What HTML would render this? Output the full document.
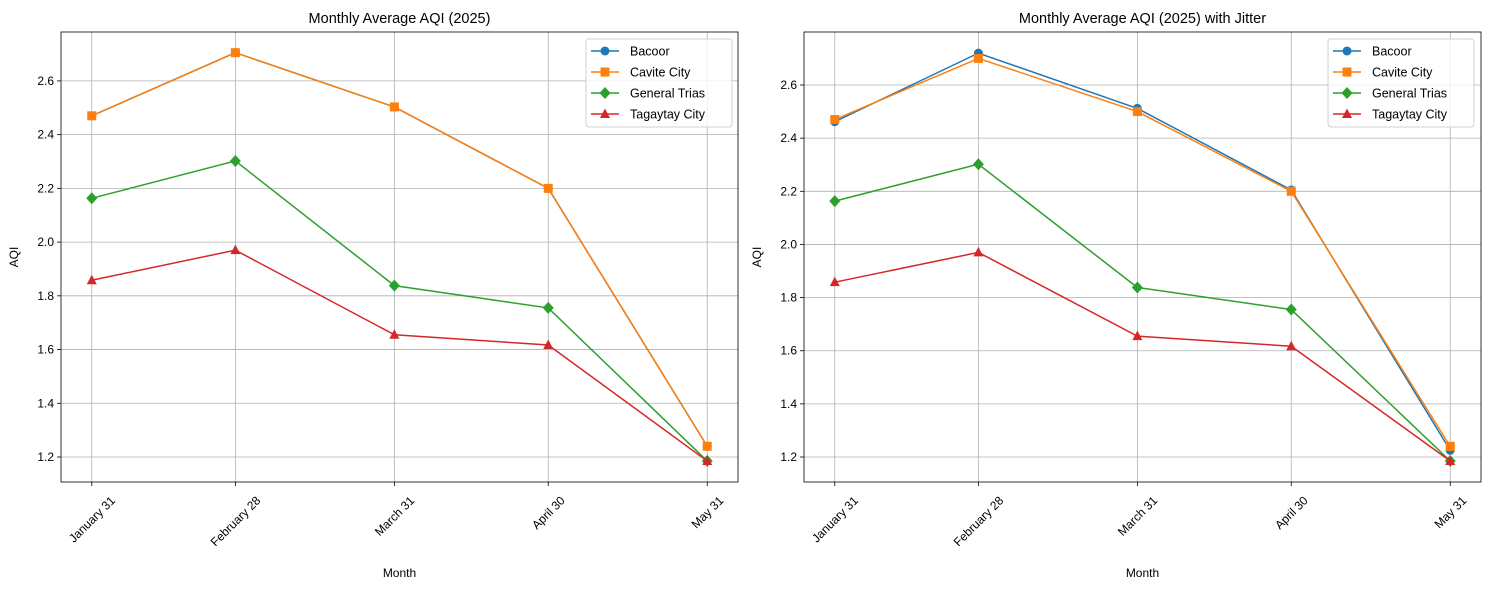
<!DOCTYPE html>
<html><head><meta charset="utf-8"><style>
body{margin:0;background:#fff;}
svg{font-family:"Liberation Sans","DejaVu Sans",sans-serif;}
</style></head><body>
<svg id="chart" width="1489" height="590"></svg>
<script>
const months=["January 31","February 28","March 31","April 30","May 31"];
const days=[0,28,59,89,120];
const seriesNames=["Bacoor","Cavite City","General Trias","Tagaytay City"];
const leftBacoor=[2.47,2.705,2.503,2.20,1.24];
const leftCavite=[2.47,2.705,2.503,2.20,1.24];
const leftTrias=[2.163,2.302,1.838,1.755,1.185];
const leftTagaytay=[1.858,1.97,1.655,1.617,1.185];
const rightBacoor=[2.462,2.72,2.512,2.205,1.225];
const rightCavite=[2.47,2.70,2.50,2.20,1.24];
const rightTrias=[2.163,2.302,1.838,1.755,1.185];
const rightTagaytay=[1.858,1.97,1.655,1.617,1.185];
const yTicks=[1.2,1.4,1.6,1.8,2.0,2.2,2.4,2.6];
const colors=["#1f77b4","#ff7f0e","#2ca02c","#d62728"];
const markers=["circle","square","diamond","triangle"];
const NS="http://www.w3.org/2000/svg";
const svg=document.getElementById('chart');
function mk(tag,attrs,parent,text){const e=document.createElementNS(NS,tag);for(const k in attrs)e.setAttribute(k,attrs[k]);if(text!==undefined)e.textContent=text;(parent||svg).appendChild(e);return e;}
function marker(g,type,x,y,c){let e;
 if(type==="circle")e=mk('circle',{cx:x,cy:y,r:4.5,fill:c},g);
 else if(type==="square")e=mk('rect',{x:x-4.5,y:y-4.5,width:9,height:9,fill:c},g);
 else if(type==="diamond")e=mk('polygon',{points:`${x},${y-6} ${x+5.5},${y} ${x},${y+6} ${x-5.5},${y}`,fill:c},g);
 else e=mk('polygon',{points:`${x},${y-5.5} ${x+5},${y+4} ${x-5},${y+4}`,fill:c},g);
 return e;}
function panel(x0,x1,y0,y1,ymin,ymax,title,data,legX,name){
 const g=mk('g',{});
 
 
 const xmin=-6,xmax=126;
 const X=d=>x0+(d-xmin)/(xmax-xmin)*(x1-x0);
 const Y=v=>y1-(v-ymin)/(ymax-ymin)*(y1-y0);
 days.forEach((d,i)=>{const x=X(d);
  mk('line',{x1:x,x2:x,y1:y0,y2:y1,stroke:'#b0b0b0','stroke-width':0.8},g);
  mk('line',{x1:x,x2:x,y1:y1,y2:y1+4,stroke:'#000','stroke-width':0.8},g);
  const t=mk('text',{x:x,y:0,'font-size':12,'text-anchor':'middle'},g,months[i]);
  
  
  const L=t.getComputedTextLength();
  const h=(L+12)*0.7071;
  const cy=y1+12+h/2;
  t.setAttribute('y',cy+4.3);
  t.setAttribute('transform',`rotate(-45 ${x} ${cy})`);});
 yTicks.forEach(v=>{const y=Y(v);
  mk('line',{x1:x0,x2:x1,y1:y,y2:y,stroke:'#b0b0b0','stroke-width':0.8},g);
  mk('line',{x1:x0-4,x2:x0,y1:y,y2:y,stroke:'#000','stroke-width':0.8},g);
  const t=mk('text',{x:x0-7,y:y+4,'font-size':12,'text-anchor':'end'},g,v.toFixed(1));
  
  });
 data.forEach((vals,si)=>{
  const pts=vals.map((v,i)=>X(days[i])+','+Y(v)).join(' ');
  const l=mk('polyline',{points:pts,fill:'none',stroke:colors[si],'stroke-width':1.5},g);
  
  
  vals.forEach((v,i)=>marker(g,markers[si],X(days[i]),Y(v),colors[si]));});
 mk('rect',{x:x0,y:y0,width:x1-x0,height:y1-y0,fill:'none',stroke:'#000','stroke-width':0.8},g);
 const tt=mk('text',{x:(x0+x1)/2,y:y0-9,'font-size':14.5,'text-anchor':'middle'},g,title);
 
 
 const xl=mk('text',{x:(x0+x1)/2,y:577,'font-size':12,'text-anchor':'middle'},g,'Month');
 
 
 const yl=mk('text',{x:0,y:0,'font-size':12,'text-anchor':'middle',transform:`translate(${x0-43},${(y0+y1)/2}) rotate(-90)`},g,'AQI');
 
 
 const lg=mk('g',{},g);
 
 
 mk('rect',{x:legX,y:39,width:146,height:88,rx:3,fill:'#fff','fill-opacity':0.8,stroke:'#d0d0d0'},lg);
 seriesNames.forEach((n,i)=>{const y=51+i*21;
  mk('line',{x1:legX+5,x2:legX+33,y1:y,y2:y,stroke:colors[i],'stroke-width':1.5},lg);
  marker(lg,markers[i],legX+19,y,colors[i]);
  const t=mk('text',{x:legX+44,y:y+4.5,'font-size':12.5},lg,n);
  
  });
}
panel(61,738,32,482,1.107,2.782,"Monthly Average AQI (2025)",[leftBacoor,leftCavite,leftTrias,leftTagaytay],586,'left-panel');
panel(804,1481,32,482,1.106,2.7995,"Monthly Average AQI (2025) with Jitter",[rightBacoor,rightCavite,rightTrias,rightTagaytay],1328,'right-panel');
</script>
</body></html>
